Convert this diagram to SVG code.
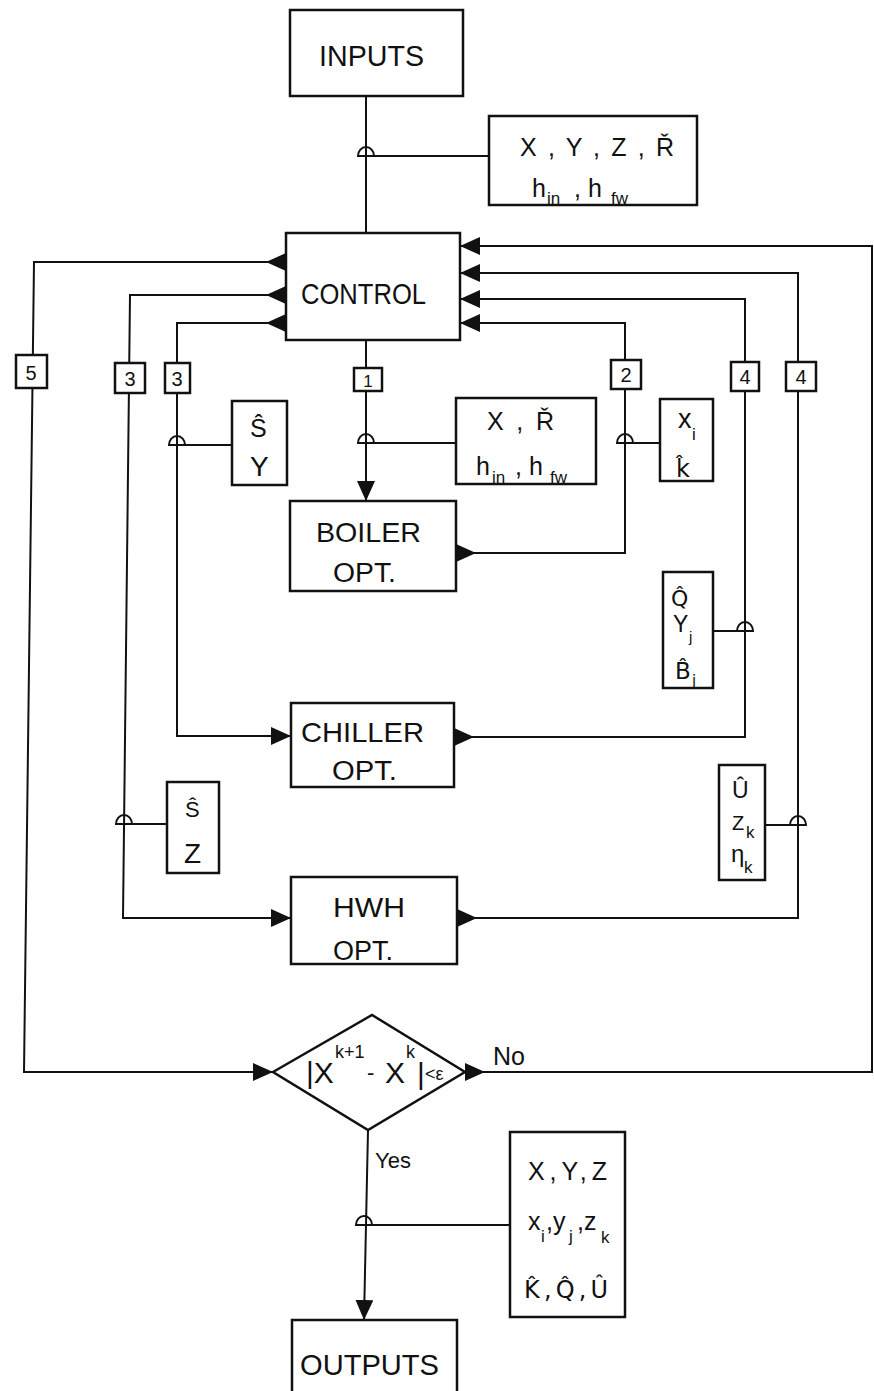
<svg xmlns="http://www.w3.org/2000/svg" width="874" height="1391" viewBox="0 0 874 1391">
<style>
  .bx{fill:#fff;stroke:#111;stroke-width:2.5}
  .ln{fill:none;stroke:#111;stroke-width:2}
  .hop{fill:none;stroke:#111;stroke-width:2}
  .t{font-family:"Liberation Sans",Arial,sans-serif;fill:#111}
  .dj{font-family:"DejaVu Sans","Liberation Sans",sans-serif;fill:#111}
  .big{font-size:29px}
  .mid{font-size:25px}
  .num{font-size:20px;text-anchor:middle}
  .sub{font-size:17px}
</style>
<defs>
  <marker id="ain" markerUnits="userSpaceOnUse" markerWidth="22" markerHeight="20" refX="20" refY="9" orient="auto">
    <path d="M0 0 L20 9 L0 18 Z" fill="#111"/>
  </marker>
  <marker id="aout" markerUnits="userSpaceOnUse" markerWidth="22" markerHeight="20" refX="0" refY="9" orient="auto">
    <path d="M0 0 L20 9 L0 18 Z" fill="#111"/>
  </marker>
</defs>
<rect width="874" height="1391" fill="#fff"/>

<g id="connectors">
  <path class="ln" d="M366 96 V233"/>
  <path class="ln" d="M374 156 H489"/>
  <path class="ln" d="M366 340 V501" marker-end="url(#ain)"/>
  <path class="ln" d="M374 443 H456"/>
  <path class="ln" d="M456 553 H625 V323 H460" marker-start="url(#aout)" marker-end="url(#ain)"/>
  <path class="ln" d="M633 443 H660"/>
  <path class="ln" d="M286 323 H177 V736 H291" marker-start="url(#aout)" marker-end="url(#ain)"/>
  <path class="ln" d="M185 445 H232"/>
  <path class="ln" d="M454 737 H745 V299 H460" marker-start="url(#aout)" marker-end="url(#ain)"/>
  <path class="ln" d="M713 631 H737"/>
  <path class="ln" d="M286 295 H130 L123 918 H291" marker-start="url(#aout)" marker-end="url(#ain)"/>
  <path class="ln" d="M132 824 H167"/>
  <path class="ln" d="M457 918 H798 V273 H460" marker-start="url(#aout)" marker-end="url(#ain)"/>
  <path class="ln" d="M765 825 H790"/>
  <path class="ln" d="M286 262 H34 L24 1072 H273" marker-start="url(#aout)" marker-end="url(#ain)"/>
  <path class="ln" d="M465 1072 H872 V246 H460" marker-start="url(#aout)" marker-end="url(#ain)"/>
  <path class="ln" d="M368 1130 L364 1320" marker-end="url(#ain)"/>
  <path class="ln" d="M372 1225 H510"/>
  <!-- junction hops -->
  <path class="hop" d="M358 156 A8 9 0 0 1 374 156 Z"/>
  <path class="hop" d="M358 443 A8 9 0 0 1 374 443 Z"/>
  <path class="hop" d="M617 443 A8 9 0 0 1 633 443 Z"/>
  <path class="hop" d="M169 445 A8 9 0 0 1 185 445 Z"/>
  <path class="hop" d="M737 631 A8 9 0 0 1 753 631 Z"/>
  <path class="hop" d="M116 824 A8 9 0 0 1 132 824 Z"/>
  <path class="hop" d="M790 825 A8 9 0 0 1 806 825 Z"/>
  <path class="hop" d="M356 1225 A8 9 0 0 1 372 1225 Z"/>
</g>

<g id="labels">
  <g id="lbl5"><rect class="bx" x="16" y="355" width="31" height="33"/><text class="t num" x="31" y="380">5</text></g>
  <g id="lbl3a"><rect class="bx" x="115" y="363" width="30" height="30"/><text class="t num" x="130" y="386">3</text></g>
  <g id="lbl3b"><rect class="bx" x="165" y="363" width="25" height="30"/><text class="t num" x="177" y="386">3</text></g>
  <g id="lbl1"><rect class="bx" x="354" y="368" width="28" height="23"/><text class="t num" x="368" y="387" style="font-size:17px">1</text></g>
  <g id="lbl2"><rect class="bx" x="611" y="360" width="30" height="29"/><text class="t num" x="626" y="382">2</text></g>
  <g id="lbl4a"><rect class="bx" x="731" y="362" width="28" height="29"/><text class="t num" x="745" y="384">4</text></g>
  <g id="lbl4b"><rect class="bx" x="786" y="362" width="30" height="29"/><text class="t num" x="801" y="384">4</text></g>
</g>

<g id="inputs">
  <rect class="bx" x="290" y="10" width="173" height="86"/>
  <text class="t big" x="319" y="66" textLength="105" lengthAdjust="spacingAndGlyphs">INPUTS</text>
</g>
<g id="input-data">
  <rect class="bx" x="489" y="116" width="208" height="89"/>
  <text class="t mid" x="520" y="156" textLength="154" lengthAdjust="spacing">X , Y , Z , Ř</text>
  <text class="t mid" x="532" y="197">h<tspan class="sub" x="547" y="204">in</tspan><tspan x="574" y="197">, h</tspan><tspan class="sub" x="611" y="204">fw</tspan></text>
</g>
<g id="control">
  <rect class="bx" x="286" y="233" width="174" height="107"/>
  <text class="t big" x="301" y="304" textLength="125" lengthAdjust="spacingAndGlyphs">CONTROL</text>
</g>
<g id="sy">
  <rect class="bx" x="232" y="401" width="55" height="84"/>
  <text class="t mid" x="250" y="437">Ŝ</text>
  <text class="t mid" x="250" y="476" style="font-size:28px">Y</text>
</g>
<g id="xr">
  <rect class="bx" x="456" y="398" width="140" height="86"/>
  <text class="t mid" x="487" y="430" textLength="67" lengthAdjust="spacing">X , Ř</text>
  <text class="t mid" x="476" y="475">h<tspan class="sub" x="492" y="483">in</tspan><tspan x="515" y="475">, h</tspan><tspan class="sub" x="550" y="483">fw</tspan></text>
</g>
<g id="xk">
  <rect class="bx" x="660" y="399" width="53" height="82"/>
  <text class="t mid" x="678" y="428" style="font-size:27px">x<tspan class="sub" x="692" y="440">i</tspan></text>
  <text class="dj" x="676" y="477" style="font-size:24px">k̂</text>
</g>
<g id="boiler">
  <rect class="bx" x="290" y="501" width="166" height="90"/>
  <text class="t big" x="316" y="542" textLength="105" lengthAdjust="spacingAndGlyphs" style="font-size:28px">BOILER</text>
  <text class="t big" x="333" y="582" textLength="63" lengthAdjust="spacingAndGlyphs" style="font-size:27px">OPT.</text>
</g>
<g id="qyb">
  <rect class="bx" x="663" y="572" width="50" height="116"/>
  <text class="dj" x="671" y="606" style="font-size:22px">Q̂</text>
  <text class="t" x="673" y="632" style="font-size:23px">Y<tspan class="sub" x="689" y="642" style="font-size:15px">j</tspan></text>
  <text class="dj" x="675" y="679" style="font-size:23px">B̂<tspan class="sub" x="692" y="686" style="font-size:15px">j</tspan></text>
</g>
<g id="chiller">
  <rect class="bx" x="291" y="703" width="163" height="84"/>
  <text class="t big" x="301" y="742" textLength="123" lengthAdjust="spacingAndGlyphs" style="font-size:28px">CHILLER</text>
  <text class="t big" x="332" y="780" textLength="65" lengthAdjust="spacingAndGlyphs" style="font-size:27px">OPT.</text>
</g>
<g id="uzn">
  <rect class="bx" x="719" y="765" width="46" height="115"/>
  <text class="t mid" x="732" y="798" style="font-size:23px">Û</text>
  <text class="t mid" x="732" y="830" style="font-size:20px">Z<tspan class="sub" x="746" y="838">k</tspan></text>
  <text class="t mid" x="731" y="862" style="font-size:24px">η<tspan class="sub" x="744" y="873">k</tspan></text>
</g>
<g id="sz">
  <rect class="bx" x="167" y="782" width="52" height="91"/>
  <text class="t mid" x="185" y="817" style="font-size:22px">Ŝ</text>
  <text class="t mid" x="184" y="863" style="font-size:28px">Z</text>
</g>
<g id="hwh">
  <rect class="bx" x="291" y="877" width="166" height="87"/>
  <text class="t big" x="333" y="917" textLength="72" lengthAdjust="spacingAndGlyphs" style="font-size:27px">HWH</text>
  <text class="t big" x="333" y="960" textLength="60" lengthAdjust="spacingAndGlyphs" style="font-size:27px">OPT.</text>
</g>
<g id="decision">
  <polygon class="bx" points="273,1072 372,1015 465,1072 368,1130"/>
  <text class="t" style="font-size:30px"><tspan x="306" y="1083">|X</tspan><tspan x="335" y="1058" style="font-size:18px">k+1</tspan><tspan x="367" y="1080" style="font-size:22px">-</tspan><tspan x="385" y="1083">X</tspan><tspan x="406" y="1058" style="font-size:18px">k</tspan><tspan x="417" y="1084">|</tspan><tspan x="425" y="1080" style="font-size:18px">&lt;ε</tspan></text>
  <text class="t mid" x="493" y="1065">No</text>
  <text class="t" x="375" y="1168" style="font-size:22px">Yes</text>
</g>
<g id="output-data">
  <rect class="bx" x="510" y="1132" width="115" height="185"/>
  <text class="t mid" x="528" y="1180" textLength="79" lengthAdjust="spacing">X,Y,Z</text>
  <text class="t mid" x="528" y="1230">x<tspan class="sub" x="541" y="1242">i</tspan><tspan x="546" y="1230">,y</tspan><tspan class="sub" x="569" y="1242">j</tspan><tspan x="577" y="1230">,z</tspan><tspan class="sub" x="601" y="1243">k</tspan></text>
  <text class="dj" x="524" y="1298" style="font-size:24px" textLength="84" lengthAdjust="spacing">K̂,Q̂,Û</text>
</g>
<g id="outputs">
  <rect class="bx" x="292" y="1320" width="165" height="80"/>
  <text class="t big" x="300" y="1375" textLength="139" lengthAdjust="spacingAndGlyphs" style="font-size:30px">OUTPUTS</text>
</g>
</svg>
